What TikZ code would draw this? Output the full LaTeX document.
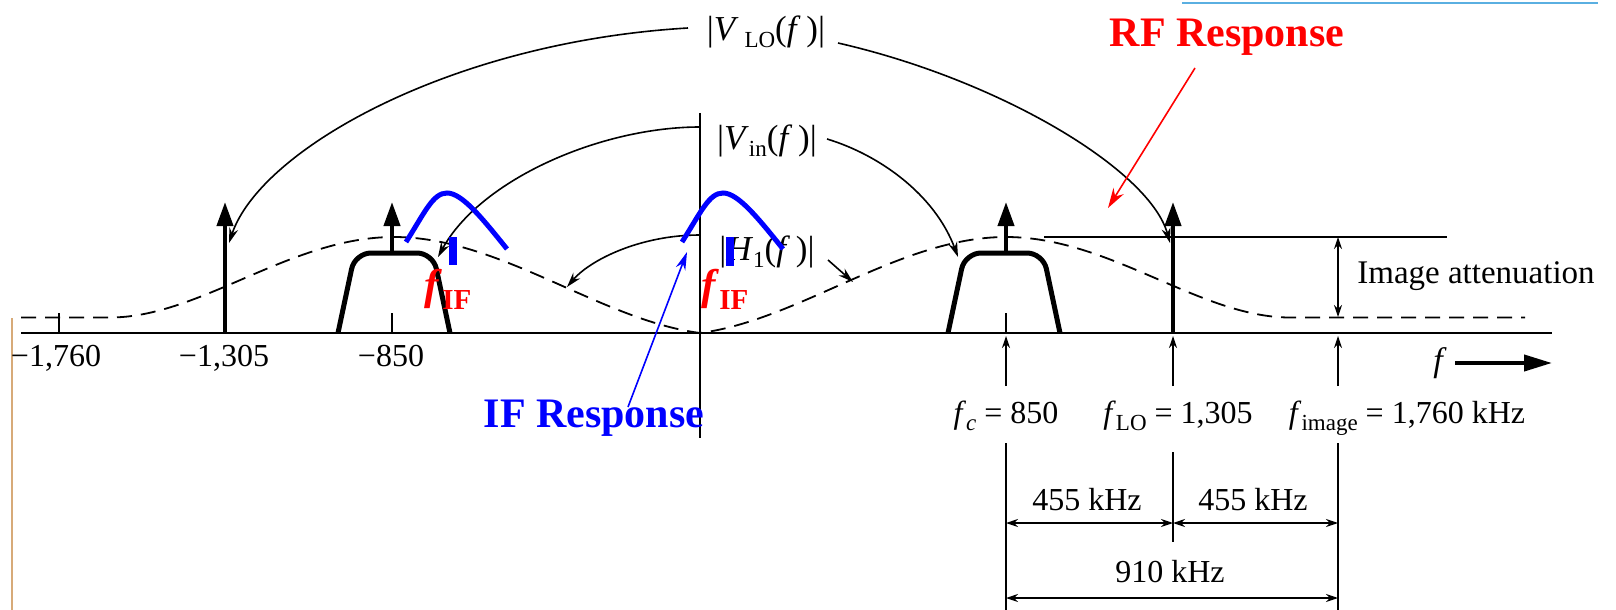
\documentclass[tikz,border=0pt]{standalone}
\usepackage{fontspec}
\setmainfont{Liberation Serif}
\usetikzlibrary{arrows.meta}
\newcommand{\subx}[2][3.5pt]{\raisebox{-#1}{\fontsize{11.5}{12}\selectfont #2}}
\begin{document}
\begin{tikzpicture}[x=0.5pt,y=-0.5pt,
  thinarrow/.style={line width=0.8pt,-{Stealth[length=7.5pt,width=4.5pt]}},
  impulse/.style={line width=2pt,-{Triangle[length=12pt,width=8pt]}},
  filt/.style={line width=2.5pt,rounded corners=8pt},
  hump/.style={blue,line width=2.5pt},
  resp/.style={dash pattern=on 7.5pt off 4.5pt,line width=0.9pt},
  lbl/.style={inner sep=0pt,font=\fontsize{16}{19}\selectfont},
  speclbl/.style={inner sep=0pt,font=\fontsize{17.5}{20}\selectfont},
  dimarr/.style={line width=0.6pt,{Stealth[length=6pt,width=4pt]}-{Stealth[length=6pt,width=4pt]}},
  uparr/.style={line width=0.6pt,-{Stealth[length=6pt,width=4pt]}},
  ifl/.style={inner sep=0pt,red,font=\fontsize{21.5}{24}\selectfont\bfseries},
  bigtxt/.style={inner sep=0pt,font=\fontsize{21}{24}\selectfont\bfseries},
]
\useasboundingbox (0,0) rectangle (1616,610);
\fill[white] (0,0) rectangle (1616,610);

% artifacts of the slide
\draw[color={rgb,255:red,90;green,175;blue,225},line width=1pt] (1182,3) -- (1598,3);
\draw[color={rgb,255:red,215;green,170;blue,120},line width=0.6pt] (12,318) -- (12,610);

% axes
\draw[line width=1pt] (21,333) -- (1552,333);
\draw[line width=1pt] (700,113) -- (700,438);

% ticks
\draw[line width=0.6pt] (59,313) -- (59,333);
\draw[line width=0.6pt] (392,313) -- (392,333);
\draw[line width=0.6pt] (1006,313) -- (1006,333);

% dashed H1 response
\draw[resp] (21,317.5) -- (110,317.5) .. controls (200,317.5) and (290,237) .. (394,237)
  .. controls (500,237) and (600,320) .. (700,333)
  .. controls (800,320) and (900,237) .. (1006,237)
  .. controls (1110,237) and (1200,317.5) .. (1290,317.5) -- (1525,317.5);

% filters
\draw[filt] (338,333) -- (355,253) -- (433,253) -- (450,333);
\draw[filt] (948,333) -- (965,253) -- (1043,253) -- (1060,333);

% impulses
\draw[impulse] (225,333) -- (225,202);
\draw[impulse] (392,253) -- (392,202);
\draw[impulse] (1006,253) -- (1006,202);
\draw[impulse] (1173,333) -- (1173,202);

% labels of the spectra
\node[speclbl] (vlo) at (766,32) {|\textit{V}\,\subx{LO}(\textit{f}\,)|};
\node[speclbl] (vin) at (767,141) {|\textit{V}\subx{in}(\textit{f}\,)|};
\node[speclbl] (h1) at (767,252) {|\textit{H}\subx{1}(\textit{f}\,)|};

\coordinate (vlo-w) at (688,28);
\coordinate (vlo-e) at (838,43);
\coordinate (tipA) at (229,243);
\coordinate (tipB) at (1170,243);
\coordinate (vin-w) at (700,127);
\coordinate (vin-e) at (827,139);
\coordinate (tipC) at (438,257);
\coordinate (tipD) at (958,257);
\coordinate (h1-w) at (700,235);
\coordinate (h1-e) at (828,260);
\coordinate (tipE) at (567,287);
\coordinate (tipF) at (853,282);

\draw[thinarrow] (vlo-w) .. controls (450,42) and (260,150) .. (tipA);
\draw[thinarrow] (vlo-e) .. controls (1000,80) and (1150,170) .. (tipB);
\draw[thinarrow] (vin-w) .. controls (600,127) and (480,180) .. (tipC);
\draw[thinarrow] (vin-e) .. controls (880,155) and (935,195) .. (tipD);
\draw[thinarrow] (h1-w) .. controls (640,235) and (590,260) .. (tipE);
\draw[thinarrow] (h1-e) -- (tipF);

% blue IF humps and bars
\draw[hump] (406,242) .. controls (425,212) and (433,193) .. (447,193) .. controls (462,193) and (482,218) .. (507,249);
\draw[hump] (682,242) .. controls (701,212) and (709,193) .. (723,193) .. controls (738,193) and (758,218) .. (783,249);
\fill[blue] (449,237) rectangle (457,265);
\fill[blue] (726,237) rectangle (734,266);

% f_IF labels
\node[ifl,anchor=base west] (fif1) at (424,299) {\textit{f}\raisebox{-5pt}{\fontsize{14.5}{15}\selectfont IF}};
\node[ifl,anchor=base west] (fif2) at (701,299) {\textit{f}\raisebox{-5pt}{\fontsize{14.5}{15}\selectfont IF}};

% IF response
\node[bigtxt,blue,anchor=base] (ifr) at (594,427) {IF Response};
\coordinate (ifr-tail) at (628,407);
\coordinate (ifr-tip) at (687,252);
\draw[blue,line width=0.8pt,-{Stealth[length=9pt,width=5pt]}] (ifr-tail) -- (ifr-tip);

% RF response
\node[bigtxt,red,anchor=base] (rfr) at (1227,47) {RF Response};
\coordinate (rfr-tail) at (1195,68);
\coordinate (rfr-tip) at (1108,208);
\draw[red,line width=0.8pt,-{Stealth[length=10pt,width=6pt]}] (rfr-tail) -- (rfr-tip);

% image attenuation
\coordinate (ref-a) at (1044,237);
\coordinate (ref-b) at (1447,237);
\draw[line width=0.7pt] (ref-a) -- (ref-b);
\coordinate (att-t) at (1338,237);
\coordinate (att-b) at (1338,317);
\draw[dimarr] (att-t) -- (att-b);
\node[lbl,anchor=base,font=\fontsize{16.5}{19}\selectfont] (att) at (1476,283) {Image attenuation};

% axis labels
\node[lbl,anchor=base] (m1760) at (56,366) {−1,760};
\node[lbl,anchor=base] (m1305) at (224,366) {−1,305};
\node[lbl,anchor=base] (m850) at (391,366) {−850};

% f arrow
\node[lbl,font=\fontsize{17}{19}\selectfont\itshape] (flab) at (1438,363) {f};
\coordinate (fa-a) at (1455,363);
\coordinate (fa-b) at (1552,363);
\draw[line width=2pt,-{Triangle[length=14pt,width=8pt]}] (fa-a) -- (fa-b);

% up arrows below the axis
\coordinate (u1) at (1006,386); \coordinate (u1t) at (1006,336);
\coordinate (u2) at (1173,386); \coordinate (u2t) at (1173,336);
\coordinate (u3) at (1338,386); \coordinate (u3t) at (1338,336);
\draw[uparr] (u1) -- (u1t);
\draw[uparr] (u2) -- (u2t);
\draw[uparr] (u3) -- (u3t);

% frequency labels
\node[lbl,anchor=base] (fc) at (1006,423) {\textit{f}\subx{\textit{c}} = 850};
\node[lbl,anchor=base] (flo) at (1178,423) {\textit{f}\subx{LO} = 1,305};
\node[lbl,anchor=base] (fim) at (1407,423) {\textit{f}\subx{image} = 1,760 kHz};

% dimension lines
\coordinate (d1a) at (1006,443); \coordinate (d1b) at (1006,610);
\coordinate (d2a) at (1173,452); \coordinate (d2b) at (1173,542);
\coordinate (d3a) at (1338,443); \coordinate (d3b) at (1338,610);
\draw[line width=0.6pt] (d1a) -- (d1b);
\draw[line width=0.6pt] (d2a) -- (d2b);
\draw[line width=0.6pt] (d3a) -- (d3b);
\coordinate (h1l) at (1006,523); \coordinate (h1m) at (1173,523); \coordinate (h1r) at (1338,523);
\draw[dimarr] (h1l) -- (h1m);
\draw[dimarr] (h1m) -- (h1r);
\coordinate (h2l) at (1006,598); \coordinate (h2r) at (1338,598);
\draw[dimarr] (h2l) -- (h2r);
\node[lbl,anchor=base] (k1) at (1087,510) {455 kHz};
\node[lbl,anchor=base] (k2) at (1253,510) {455 kHz};
\node[lbl,anchor=base] (k3) at (1170,582) {910 kHz};
\end{tikzpicture}
\end{document}
